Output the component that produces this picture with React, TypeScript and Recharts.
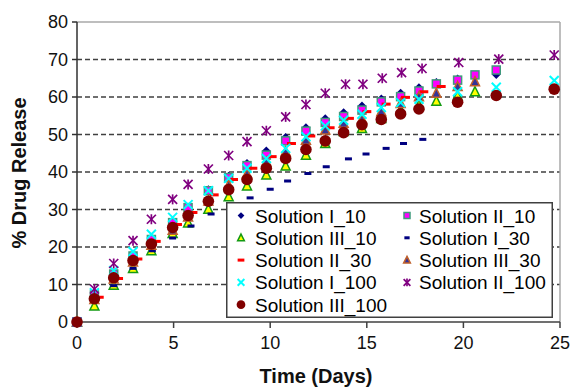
import {
  ScatterChart,
  Scatter,
  XAxis,
  YAxis,
  CartesianGrid,
  ReferenceLine,
  Legend,
} from 'recharts'

const FONT = '"Liberation Sans", Arial, sans-serif'

// shared sampling days (most series)
const days = [0, 0.9, 1.9, 2.9, 3.85, 4.95, 5.75, 6.8, 7.85, 8.8, 9.8, 10.8, 11.85, 12.85, 13.8, 14.75, 15.75, 16.75, 17.7, 18.6, 19.7, 20.6, 21.7, 24.7]

const solI10 = [0, 6.5, 12.5, 17.2, 21.8, 26.2, 30.2, 35.3, 38.9, 42.3, 45.6, 49.2, 51.8, 54.2, 55.8, 57.6, 59.5, 61.0, 62.5, 63.9, 64.8, null, 66.0, null]
const solII10 = [0, 7.2, 12.8, 17.6, 22.0, 26.5, 30.5, 35.0, 38.5, 41.7, 44.5, 48.3, 50.9, 53.2, 54.8, 56.5, 58.7, 60.1, 61.6, 63.5, 64.5, 65.9, 67.2, null]
const solIII10 = [0, 4.3, 9.8, 14.3, 19.0, 23.6, 26.4, 30.1, 33.4, 36.3, 39.2, 41.6, 44.5, 47.6, 50.8, 51.6, 54.3, 56.5, 57.8, 58.9, 60.3, 61.4, null, null]
const solIII30 = [0, 6.0, 11.5, 16.0, 20.5, 24.5, 28.0, 32.3, 36.5, 39.5, 42.7, 45.4, 48.5, 51.2, 53.0, 54.1, 56.1, 58.3, 60.1, 61.0, 62.8, 64.1, null, null]
const solI100 = [0, 7.8, 13.7, 18.8, 23.4, 27.9, 31.3, 35.0, 38.3, 41.0, 43.6, 46.3, 49.4, 52.3, 53.8, 55.4, 57.2, 58.5, 59.4, null, 61.4, null, 62.6, 64.4]
const solIII100 = [0, 6.2, 11.8, 16.4, 20.8, 25.2, 28.4, 32.2, 35.3, 38.0, 41.0, 43.6, 46.0, 48.3, 50.5, 52.6, 54.0, 55.5, 56.8, null, 58.6, null, 60.4, 62.1]

// series with their own sampling days
const daysI30 = [0, 0.9, 1.9, 2.9, 3.9, 4.95, 5.9, 6.94, 8.96, 10.0, 10.9, 11.95, 12.9, 14.05, 14.96, 16.0, 16.9, 17.9]
const solI30 = [0, 6.0, 9.7, 14.3, 19.0, 22.4, 25.6, 28.8, 33.1, 35.4, 37.6, 39.6, 41.4, 43.5, 44.8, 46.3, 47.6, 48.7]

const daysII30 = [0, 1.15, 2.15, 3.15, 4.1, 5.2, 6.0, 7.1, 8.1, 9.1, 10.1, 11.1, 12.1, 13.1, 14.1, 15.0, 16.0, 17.0, 17.95, 18.85]
const solII30 = [0, 6.6, 11.6, 16.8, 21.5, 26.0, 29.2, 33.9, 38.0, 41.0, 44.1, 47.6, 49.6, 51.8, 54.3, 56.1, 58.1, 59.9, 61.4, 62.8]

const daysII100 = [0, 0.9, 1.9, 2.9, 3.85, 4.95, 5.75, 6.8, 7.85, 8.8, 9.8, 10.8, 11.85, 12.85, 13.9, 14.8, 15.8, 16.8, 17.86, 19.76, 21.83, 24.7]
const solII100 = [0, 8.8, 15.6, 21.7, 27.4, 32.7, 36.7, 40.8, 44.4, 48.1, 51.0, 54.7, 58.0, 61.0, 63.4, 63.4, 65.0, 66.5, 67.6, 69.2, 70.1, 71.2]

const xTicks = [0, 5, 10, 15, 20, 25]
const yTicks = [0, 10, 20, 30, 40, 50, 60, 70, 80]
const gridValues = [10, 20, 30, 40, 50, 60, 70]

type Kind = 'diamond' | 'square' | 'triYellow' | 'dashNavy' | 'dashRed' | 'triBrown' | 'cross' | 'star' | 'circle'

function toPoints(xs: number[], ys: (number | null)[]) {
  const out: { x: number; y: number }[] = []
  ys.forEach((y, i) => {
    if (y !== null) out.push({ x: xs[i], y })
  })
  return out
}

const series: { name: string; kind: Kind; data: { x: number; y: number }[] }[] = [
  { name: 'Solution I_10', kind: 'diamond', data: toPoints(days, solI10) },
  { name: 'Solution II_10', kind: 'square', data: toPoints(days, solII10) },
  { name: 'Solution III_10', kind: 'triYellow', data: toPoints(days, solIII10) },
  { name: 'Solution I_30', kind: 'dashNavy', data: toPoints(daysI30, solI30) },
  { name: 'Solution II_30', kind: 'dashRed', data: toPoints(daysII30, solII30) },
  { name: 'Solution III_30', kind: 'triBrown', data: toPoints(days, solIII30) },
  { name: 'Solution I_100', kind: 'cross', data: toPoints(days, solI100) },
  { name: 'Solution II_100', kind: 'star', data: toPoints(daysII100, solII100) },
  { name: 'Solution III_100', kind: 'circle', data: toPoints(days, solIII100) },
]

function Marker({ kind, cx, cy, s = 1 }: { kind: Kind; cx: number; cy: number; s?: number }) {
  if (cx == null || cy == null) return null
  switch (kind) {
    case 'diamond': {
      const h = 4.5 * s
      return <polygon points={`${cx},${cy - h} ${cx + h},${cy} ${cx},${cy + h} ${cx - h},${cy}`} fill="#000080" />
    }
    case 'square': {
      const h = 4 * s
      return <rect x={cx - h} y={cy - h} width={2 * h} height={2 * h} fill="#ff00ff" stroke="#3f9a7c" strokeWidth={1.5} />
    }
    case 'triYellow': {
      const w = 4.5 * s
      return (
        <polygon
          points={`${cx},${cy - 5 * s} ${cx + w},${cy + 4 * s} ${cx - w},${cy + 4 * s}`}
          fill="#ffff00"
          stroke="#139a13"
          strokeWidth={1.5}
        />
      )
    }
    case 'dashNavy':
      return <rect x={cx - 3.5 * s} y={cy - 1.5} width={7 * s} height={3} fill="#000080" />
    case 'dashRed':
      return <rect x={cx - 4.5 * s} y={cy - 1.5} width={9 * s} height={3} fill="#ff0000" />
    case 'triBrown': {
      const w = 4.5 * s
      return (
        <polygon
          points={`${cx},${cy - 5 * s} ${cx + w},${cy + 4 * s} ${cx - w},${cy + 4 * s}`}
          fill="#333399"
          stroke="#c0602a"
          strokeWidth={1.5}
        />
      )
    }
    case 'cross': {
      const h = 4.5 * s
      return (
        <g stroke="#00ffff" strokeWidth={2}>
          <line x1={cx - h} y1={cy - h} x2={cx + h} y2={cy + h} />
          <line x1={cx - h} y1={cy + h} x2={cx + h} y2={cy - h} />
        </g>
      )
    }
    case 'star': {
      const h = 4.5 * s
      return (
        <g stroke="#800080" strokeWidth={1.7}>
          <line x1={cx - h} y1={cy - h} x2={cx + h} y2={cy + h} />
          <line x1={cx - h} y1={cy + h} x2={cx + h} y2={cy - h} />
          <line x1={cx} y1={cy - h - 0.5} x2={cx} y2={cy + h + 0.5} />
        </g>
      )
    }
    case 'circle':
      return <circle cx={cx} cy={cy} r={5.8 * s} fill="#800000" />
  }
  return null
}

function renderLegend() {
  return (
    <svg width={327} height={116} style={{ display: 'block' }}>
      <rect x={0.75} y={0.75} width={325.5} height={114.5} fill="#fff" stroke="#404040" strokeWidth={1.5} />
      {series.map((s, i) => {
        const col = i % 2
        const row = Math.floor(i / 2)
        const cy = 13.5 + row * 22.3
        const mx = col ? 181 : 15
        const tx = col ? 193 : 29
        return (
          <g key={s.name}>
            <Marker kind={s.kind} cx={mx} cy={cy} s={0.75} />
            <text x={tx} y={cy + 7} fontFamily={FONT} fontSize={19} fill="#000">
              {s.name}
            </text>
          </g>
        )
      })}
    </svg>
  )
}

export default function App() {
  return (
    <div style={{ position: 'absolute', left: 0, top: 0, background: '#fff' }}>
      <ScatterChart width={571} height={387} margin={{ top: 22, right: 11, bottom: 0, left: 0 }}>
        <CartesianGrid
          vertical={false}
          horizontalValues={gridValues}
          stroke="#404040"
          strokeWidth={1.3}
          strokeDasharray="5 3"
        />
        <ReferenceLine y={80} stroke="#a8a8a8" strokeWidth={1.5} />
        <ReferenceLine x={25} stroke="#a8a8a8" strokeWidth={1.5} />
        <XAxis
          type="number"
          dataKey="x"
          domain={[0, 25]}
          ticks={xTicks}
          height={65}
          tickSize={6}
          tickMargin={8}
          axisLine={{ stroke: '#404040', strokeWidth: 1.5 }}
          tickLine={{ stroke: '#404040', strokeWidth: 1.5 }}
          tick={{ fontFamily: FONT, fontSize: 18, fill: '#111' }}
          label={() => (
            <text x={316} y={383} textAnchor="middle" fontFamily={FONT} fontSize={20} fontWeight="bold" fill="#111">
              Time (Days)
            </text>
          )}
        />
        <YAxis
          type="number"
          dataKey="y"
          domain={[0, 80]}
          ticks={yTicks}
          width={77}
          tickSize={5}
          tickMargin={4}
          axisLine={{ stroke: '#303030', strokeWidth: 1.5 }}
          tickLine={{ stroke: '#303030', strokeWidth: 1.5 }}
          tick={{ fontFamily: FONT, fontSize: 18, fill: '#111' }}
          label={() => (
            <text
              x={26}
              y={173}
              transform="rotate(-90 26 173)"
              textAnchor="middle"
              fontFamily={FONT}
              fontSize={20}
              fontWeight="bold"
              fill="#111"
            >
              % Drug Release
            </text>
          )}
        />
        {series.map((s) => (
          <Scatter
            key={s.name}
            name={s.name}
            data={s.data}
            isAnimationActive={false}
            shape={(p: any) => <Marker kind={s.kind} cx={p.cx} cy={p.cy} />}
          />
        ))}
        <Legend
          content={renderLegend}
          align="center"
          verticalAlign="middle"
          wrapperStyle={{ left: 226, top: 202, width: 327, height: 116 }}
        />
      </ScatterChart>
    </div>
  )
}
